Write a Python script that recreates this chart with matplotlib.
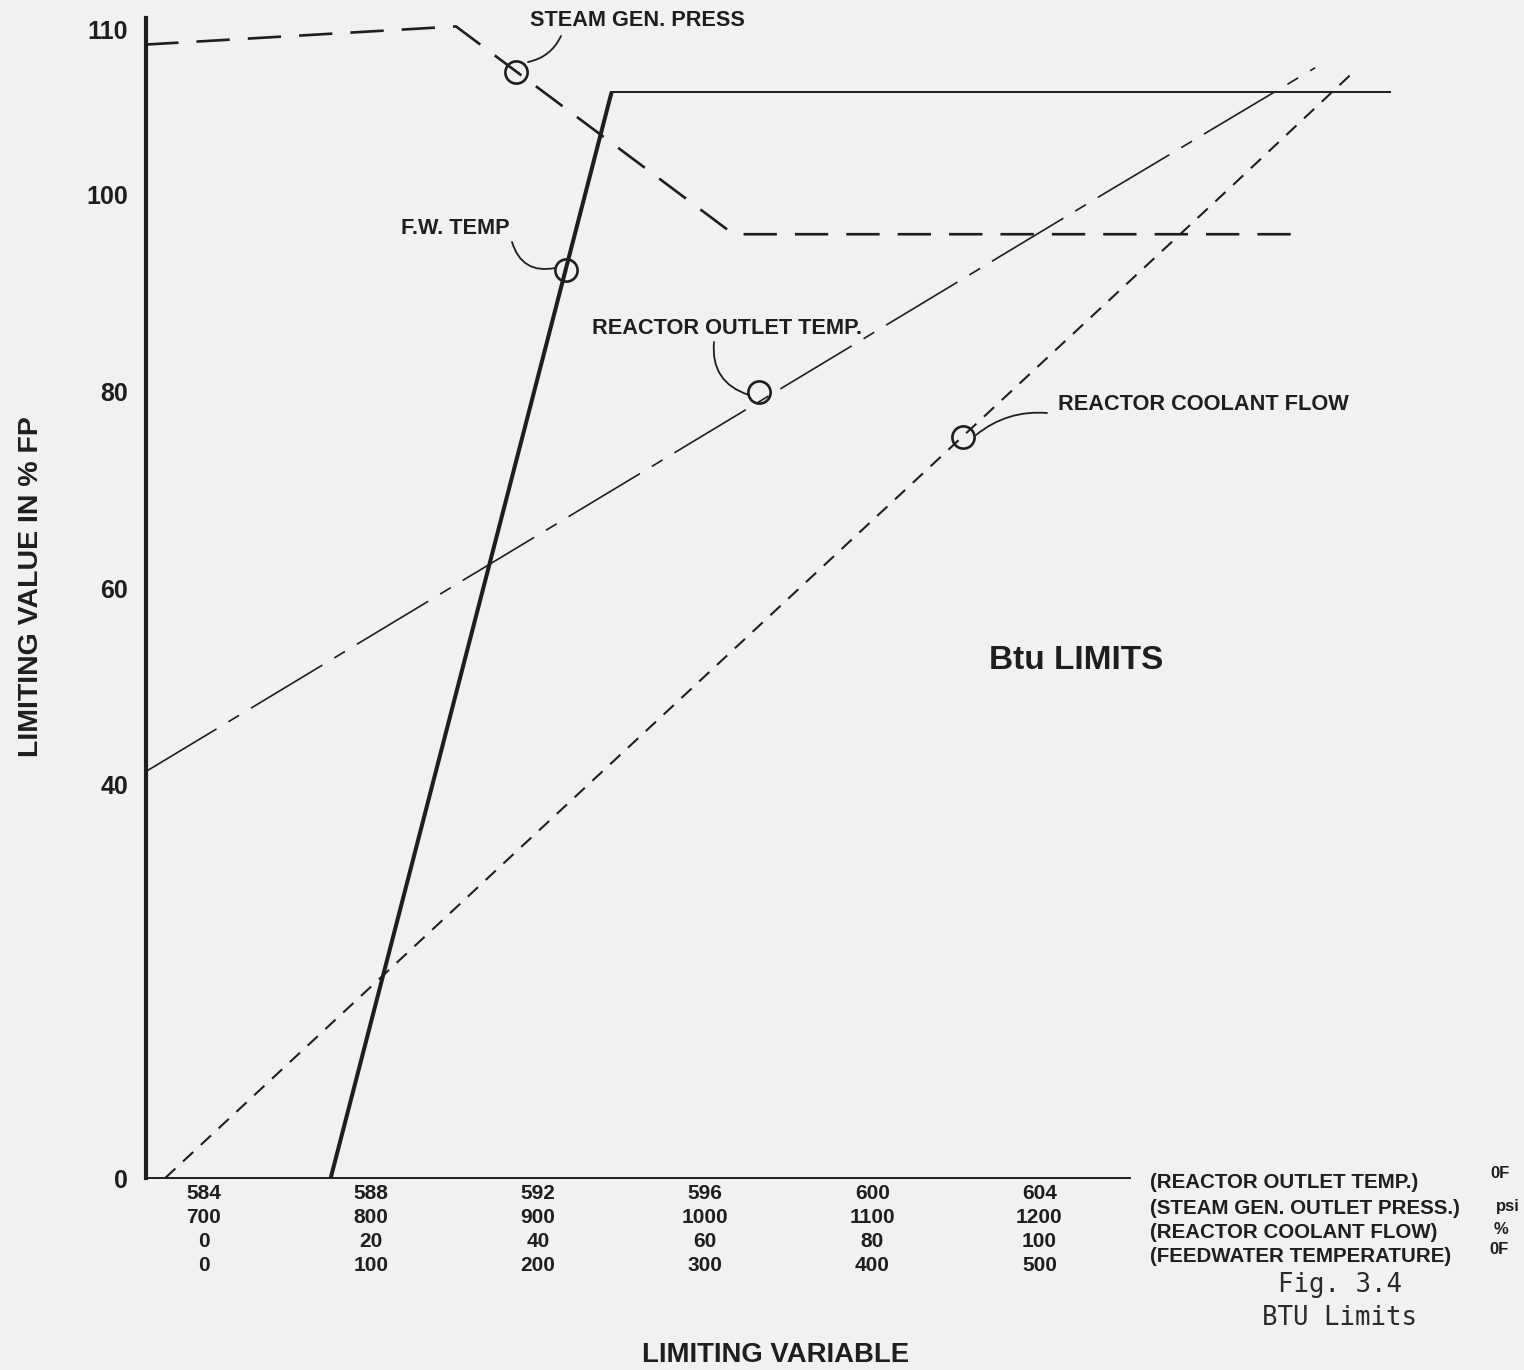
import numpy as np
import matplotlib
matplotlib.use("Agg")
import matplotlib.pyplot as plt
from matplotlib import font_manager

# ---------------- data ----------------
tick_rot = [584, 588, 592, 596, 600, 604]          # reactor outlet temp, F
tick_sgp = [700, 800, 900, 1000, 1100, 1200]       # steam gen. outlet press, psi
tick_rcf = [0, 20, 40, 60, 80, 100]                # reactor coolant flow, %
tick_fwt = [0, 100, 200, 300, 400, 500]            # feedwater temperature, F
y_ticks = [0, 40, 60, 80, 100, 110]

row_names = ["(REACTOR OUTLET TEMP.)", "(STEAM GEN. OUTLET PRESS.)",
             "(REACTOR COOLANT FLOW)", "(FEEDWATER TEMPERATURE)"]
row_units = ["0F", "psi", "%", "0F"]

# series: limiting variable (native units) vs limiting value (% FP)
sgp_psi = [665, 851, 1017, 1351]
sgp_fp = [109.1, 110.2, 96.0, 96.0]
fwt_F = [76, 244, 710]
fwt_fp = [0.0, 106.2, 106.2]
rot_F = [582.6, 605.5, 610.6]
rot_fp = [41.3, 100.0, 107.7]
rcf_pct = [-4.6, 121.9, 137.5]
rcf_fp = [0.0, 100.0, 107.4]

# marker (circle) positions on each curve
sgp_mark = (887, 107.45)
fwt_mark = (217, 92.4)
rot_mark = (597.3, 79.9)
rcf_mark = (90.9, 75.4)

# conversions of each variable onto the common abscissa (reactor outlet temp scale)
def sgp_x(v): return 584 + (np.asarray(v, float) - 700) / 25.0
def fwt_x(v): return 584 + np.asarray(v, float) / 25.0
def rot_x(v): return np.asarray(v, float)
def rcf_x(v): return 584 + np.asarray(v, float) / 5.0

# ---------------- style ----------------
plt.rcParams["lines.scale_dashes"] = False
INK = "#1e1e1e"
BG = "#f1f1f1"
avail = {f.name for f in font_manager.fontManager.ttflist}
def pick(cands, last):
    return [c for c in cands if c in avail][:1] + [last]
BOLD = pick(["Liberation Sans", "Arimo"], "DejaVu Sans")
MONO = pick(["DejaVu Sans Mono"], "monospace")

W, H = 1524, 1370
fig = plt.figure(figsize=(W / 100, H / 100), dpi=100, facecolor=BG)

ax_l, ax_r, ax_b, ax_t = 146, 1400, 1178, 18
ax = fig.add_axes([ax_l / W, (H - ax_b) / H, (ax_r - ax_l) / W, (ax_b - ax_t) / H])
ax.set_facecolor(BG)

# piecewise y scale: the 100-110 band is drawn stretched, as in the original
K = 1.68
def fwd(y):
    y = np.asarray(y, float)
    return np.where(y <= 100, y, 100 + (y - 100) * K)
def inv(u):
    u = np.asarray(u, float)
    return np.where(u <= 100, u, 100 + (u - 100) / K)
ax.set_yscale("function", functions=(fwd, inv))
ax.set_ylim(0, 110.71)
ax.set_xlim(582.62, 612.63)

for s in ["top", "right"]:
    ax.spines[s].set_visible(False)
ax.spines["left"].set_linewidth(3.0)
ax.spines["left"].set_color(INK)
ax.spines["bottom"].set_linewidth(1.4)
ax.spines["bottom"].set_color(INK)
ax.spines["bottom"].set_bounds(582.62, 606.17)

ax.set_yticks(y_ticks)
ax.set_yticklabels([str(v) for v in y_ticks], fontfamily=BOLD, fontweight="bold",
                   fontsize=18, color=INK)
ax.set_xticks(tick_rot)
ax.set_xticklabels([f"{a}\n{b}\n{c}\n{d}" for a, b, c, d in zip(tick_rot, tick_sgp, tick_rcf, tick_fwt)],
                   fontfamily=BOLD, fontweight="bold", fontsize=15, color=INK,
                   linespacing=1.34)
ax.tick_params(axis="both", length=0)
ax.tick_params(axis="y", pad=13)
ax.tick_params(axis="x", pad=4)

# ---------------- curves ----------------
# steam generator pressure (long dashes)
ax.plot(sgp_x(sgp_psi), sgp_fp, color=INK, lw=1.9, dashes=(24, 13), solid_capstyle="butt")
# feedwater temperature (solid, heavy slanted part, thin horizontal part)
fx = fwt_x(fwt_F)
ax.plot(fx[:2], fwt_fp[:2], color=INK, lw=2.9, solid_capstyle="butt")
ax.plot(fx[1:], fwt_fp[1:], color=INK, lw=1.4)
# reactor outlet temperature (long dash - short dash)
ax.plot(rot_x(rot_F), rot_fp, color=INK, lw=1.2, dashes=(60, 10, 9, 10))
# reactor coolant flow (short dashes)
ax.plot(rcf_x(rcf_pct), rcf_fp, color=INK, lw=1.5, dashes=(10, 7.5))

# circles on the curves
mk = dict(marker="o", ms=16, mfc="none", mec=INK, mew=1.9, ls="none")
ax.plot(sgp_x(sgp_mark[0]), sgp_mark[1], **mk)
ax.plot(fwt_x(fwt_mark[0]), fwt_mark[1], **mk)
ax.plot(rot_x(rot_mark[0]), rot_mark[1], **mk)
ax.plot(rcf_x(rcf_mark[0]), rcf_mark[1], **mk)

# ---------------- labels ----------------
def P(px, py):
    return (px, H - py)

def leader(p0, p1, rad):
    ax.annotate("", xy=P(*p1), xytext=P(*p0), xycoords="figure pixels", textcoords="figure pixels",
                arrowprops=dict(arrowstyle="-", color=INK, lw=1.3, shrinkA=0, shrinkB=0,
                                connectionstyle=f"arc3,rad={rad}"))

def ftext(px, py, s, fam, size, **kw):
    d = dict(fontfamily=fam, fontweight="bold", fontsize=size, color=INK, ha="center", va="center")
    d.update(kw)
    fig.text(px / W, 1 - py / H, s, **d)

ftext(637, 20, "STEAM GEN. PRESS", BOLD, 15.6)
leader((528, 62), (561, 36), 0.25)
ftext(455, 228, "F.W. TEMP", BOLD, 15.6)
leader((512, 242), (555, 268), 0.45)
ftext(727, 328, "REACTOR OUTLET TEMP.", BOLD, 15.7)
leader((714, 342), (749, 395), 0.4)
ftext(1203, 405, "REACTOR COOLANT FLOW", BOLD, 15.7)
leader((976, 435), (1047, 413), -0.2)
ftext(1076, 661, "Btu LIMITS", BOLD, 24)

# axis titles
ftext(31, 587, "LIMITING VALUE IN % FP", BOLD, 20.5, rotation=90)
ftext(776, 1355, "LIMITING VARIABLE", BOLD, 19.8)

# variable legend at right of the abscissa
row_y = [1183, 1208, 1232, 1256]
unit_y = [1174, 1207, 1230, 1250]
unit_x = [1500, 1508, 1501, 1499]
for name, unit, ry, uy, ux in zip(row_names, row_units, row_y, unit_y, unit_x):
    ftext(1150, ry, name, BOLD, 14.8, ha="left")
    ftext(ux, uy, unit, BOLD, 12)

ftext(1340, 1285, "Fig. 3.4", MONO, 18.5, fontweight="normal", color="#2a2a2a")
ftext(1340, 1318, "BTU Limits", MONO, 18.5, fontweight="normal", color="#2a2a2a")

fig.savefig("out.png", dpi=100, facecolor=BG)
